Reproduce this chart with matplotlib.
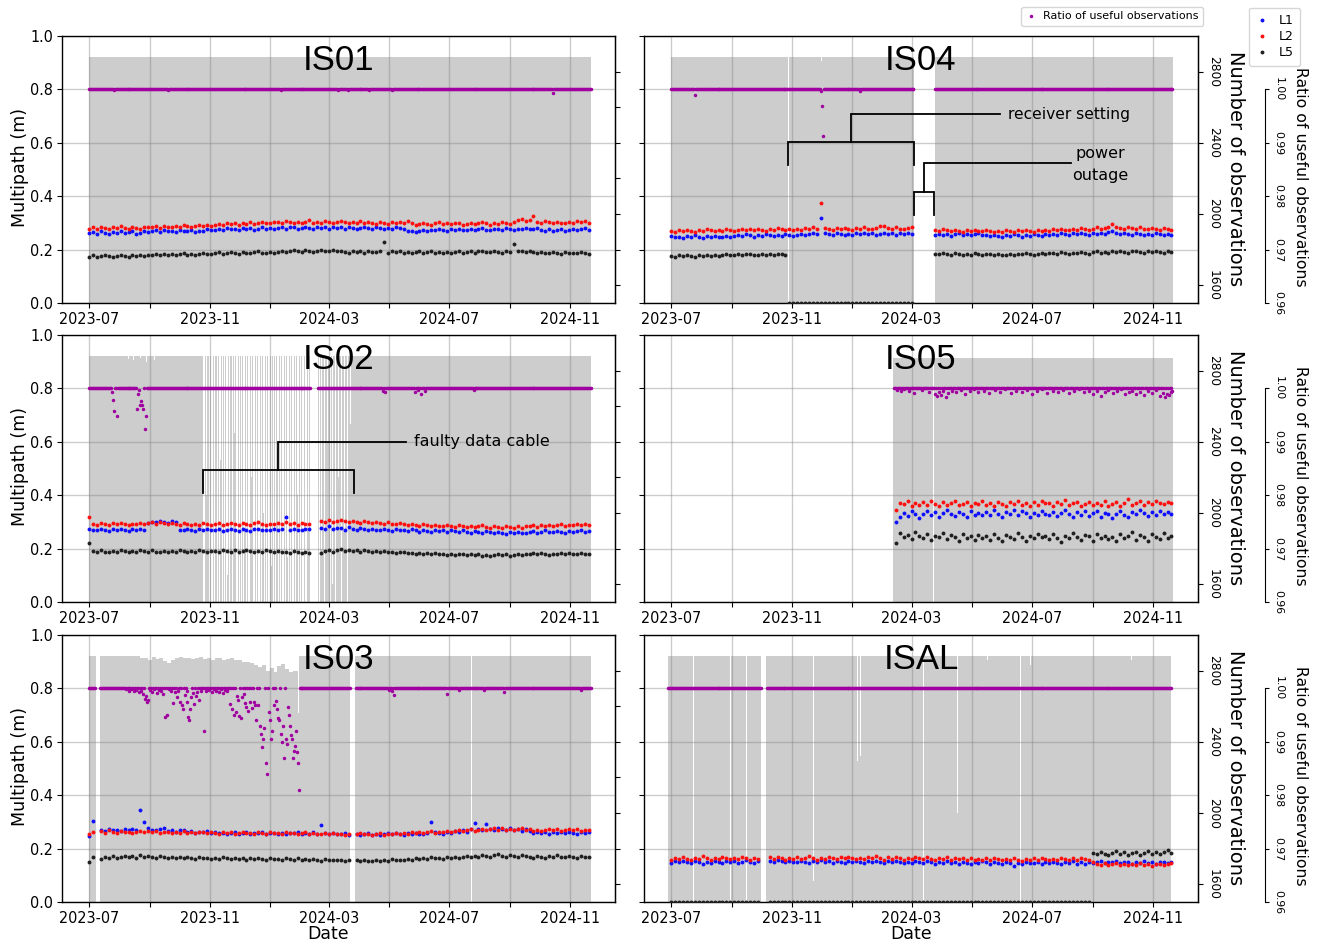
import numpy as np
import pandas as pd
import matplotlib
matplotlib.use("Agg")
import matplotlib.pyplot as plt
import matplotlib.dates as mdates
from matplotlib.lines import Line2D
from matplotlib import font_manager as fm
from matplotlib.ticker import FixedLocator, FuncFormatter

# ---------------------------------------------------------------------------
# Data: daily multipath (mm, sampled every 4 days from 2023-07-01),
# observation counts per day, and ratio of useful observations.
# None = no data, 0 = signal not tracked.
# ---------------------------------------------------------------------------
START = "2023-07-01"
STEP = 4
SAMPLE_DAYS = np.arange(0, 512, STEP)          # 128 samples

IS01_L1 = [262, 266, 260, 268, 264, 259, 267, 263, 270, 261, 265, 268, 258, 264, 269, 266,
           268, 272, 265, 274, 269, 271, 266, 273, 270, 268, 275, 267, 271, 269, 276, 272,
           275, 279, 273, 281, 276, 278, 274, 282, 277, 280, 275, 279, 283, 276, 281, 278,
           280, 284, 278, 283, 286, 279, 282, 285, 281, 277, 284, 280, 283, 279, 286, 282,
           283, 279, 284, 281, 277, 282, 286, 280, 278, 283, 281, 276, 282, 279, 284, 280,
           276, 271, 268, 266, 270, 273, 269, 275, 272, 277, 274, 271, 276, 273, 278, 275,
           274, 278, 273, 277, 280, 275, 272, 279, 276, 274, 281, 277, 273, 279, 276, 282,
           279, 276, 281, 274, 271, 277, 269, 273, 276, 270, 274, 278, 272, 276, 280, 274]
IS01_L2 = [277, 283, 279, 285, 281, 276, 284, 280, 287, 282, 278, 285, 281, 279, 286, 283,
           284, 288, 282, 290, 286, 283, 289, 285, 291, 287, 284, 290, 292, 288, 294, 290,
           293, 297, 291, 299, 295, 298, 294, 300, 296, 302, 297, 299, 303, 298, 301, 305,
           304, 300, 307, 302, 298, 305, 301, 303, 309, 300, 304, 298, 306, 302, 300, 305,
           307, 302, 299, 304, 301, 306, 298, 303, 300, 297, 304, 301, 296, 302, 299, 304,
           301, 306, 298, 294, 296, 300, 297, 293, 299, 302, 296, 299, 295, 301, 298, 294,
           297, 301, 295, 300, 303, 298, 294, 301, 297, 303, 299, 296, 302, 310, 316, 308,
           312, 325, 303, 300, 306, 302, 299, 305, 301, 298, 304, 300, 307, 303, 306, 300]
IS01_L5 = [174, 178, 172, 176, 179, 175, 173, 177, 180, 176, 174, 178, 175, 179, 177, 181,
           180, 184, 179, 183, 181, 185, 178, 182, 186, 181, 184, 180, 183, 187, 182, 185,
           186, 190, 184, 189, 192, 187, 185, 191, 188, 186, 190, 193, 187, 189, 191, 188,
           192, 196, 190, 195, 198, 193, 191, 197, 194, 192, 196, 199, 193, 195, 197, 194,
           196, 192, 189, 194, 191, 195, 188, 193, 190, 192, 196, 228, 189, 194, 191, 193,
           189, 192, 187, 191, 194, 188, 190, 193, 186, 191, 189, 192, 188, 190, 193, 189,
           191, 194, 189, 193, 196, 190, 192, 195, 191, 189, 194, 192, 222, 193, 196, 191,
           193, 190, 187, 192, 189, 186, 191, 188, 185, 190, 187, 189, 186, 190, 188, 185]

IS02_L1 = [275, 271, 268, 273, 270, 266, 272, 269, 274, 270, 267, 272, 269, 273, 271, 297,
           301, 298, 303, 300, 296, 302, 299, 271, 268, 273, 270, 266, 272, 269, 274, 270,
           268, 272, 265, 271, 274, 269, 266, 273, 270, 267, 272, 275, 269, 271, 268, 274,
           270, 273, 318, 268, 274, 271, 269, 272, 273, None, None, 279, 272, 283, 275, 278,
           276, 271, 280, 274, 270, 277, 273, 269, 275, 271, 268, 274, 270, 267, 273, 269,
           270, 266, 272, 268, 264, 270, 267, 263, 269, 265, 268, 264, 270, 266, 262, 268,
           264, 260, 266, 262, 259, 265, 261, 257, 263, 260, 256, 262, 259, 264, 260, 258,
           262, 266, 260, 264, 268, 263, 261, 266, 264, 260, 267, 263, 265, 269, 264, 266]
IS02_L2 = [318, 294, 290, 296, 292, 289, 295, 291, 297, 293, 289, 294, 291, 296, 292, 295,
           298, 293, 300, 296, 291, 297, 293, 289, 295, 291, 288, 294, 290, 296, 292, 289,
           291, 295, 289, 294, 297, 292, 288, 296, 293, 290, 295, 298, 292, 289, 294, 291,
           296, 292, 298, 293, 295, 290, 297, 294, 291, None, None, 303, 299, 306, 301, 304,
           308, 302, 299, 305, 300, 297, 303, 298, 295, 301, 296, 293, 299, 294, 291, 297,
           292, 288, 294, 289, 285, 291, 287, 284, 290, 286, 283, 289, 285, 282, 288, 284,
           282, 286, 280, 284, 288, 281, 279, 285, 282, 278, 284, 280, 277, 283, 279, 286,
           283, 287, 281, 289, 285, 290, 284, 288, 292, 286, 290, 287, 293, 289, 291, 288]
IS02_L5 = [220, 191, 187, 193, 189, 186, 192, 188, 194, 190, 187, 192, 189, 195, 191, 188,
           193, 189, 186, 192, 188, 191, 187, 193, 190, 186, 192, 189, 195, 191, 187, 190,
           192, 188, 194, 190, 187, 193, 189, 191, 195, 190, 186, 192, 188, 194, 190, 187,
           191, 187, 189, 185, 190, 186, 183, 188, 184, None, None, 182, 191, 196, 189, 193,
           197, 192, 195, 190, 194, 189, 193, 191, 188, 192, 187, 190, 186, 189, 185, 188,
           186, 182, 185, 181, 184, 180, 183, 179, 182, 178, 181, 177, 180, 176, 179, 178,
           176, 179, 175, 178, 174, 177, 173, 176, 180, 175, 178, 174, 177, 181, 176, 179,
           178, 182, 179, 183, 180, 177, 181, 178, 182, 179, 183, 180, 178, 182, 179, 181]

IS03_L1 = [248, 302, None, 270, 266, 274, 268, 271, 265, 273, 269, 275, 268, 345, 300, 276,
           271, 268, 273, 276, 266, 270, 264, 271, 268, 262, 266, 259, 264, 261, 267, 260,
           262, 257, 260, 255, 259, 263, 256, 258, 261, 254, 259, 257, 262, 255, 260, 258,
           256, 260, 254, 259, 257, 262, 255, 258, 253, 261, 256, 290, 257, 254, 258, 255,
           253, 257, 252, None, 256, 251, 255, 258, 252, 256, 250, 254, 257, 253, 259, 255,
           252, 258, 254, 260, 256, 253, 259, 300, 262, 258, 256, 263, 259, 266, 261, 268,
           264, 272, 295, 275, 270, 293, 274, 269, 278, 272, 268, 276, 271, 275, 267, 273,
           266, 260, 263, 258, 262, 256, 261, 259, 264, 257, 262, 258, 255, 261, 259, 263]
IS03_L2 = [255, 262, None, 265, 260, 268, 263, 259, 266, 261, 264, 258, 263, 267, 261, 265,
           262, 266, 259, 264, 261, 257, 263, 260, 265, 258, 262, 259, 264, 261, 257, 263,
           260, 256, 262, 258, 261, 255, 259, 263, 257, 260, 256, 262, 258, 255, 261, 259,
           259, 255, 261, 257, 260, 256, 258, 262, 255, 259, 256, 254, 258, 255, 257, 253,
           256, 252, 255, None, 254, 258, 253, 256, 251, 255, 258, 252, 256, 253, 257, 254,
           258, 255, 261, 257, 263, 259, 262, 266, 260, 264, 261, 267, 263, 266, 270, 265,
           268, 272, 266, 270, 275, 269, 273, 278, 271, 276, 270, 274, 268, 272, 276, 270,
           273, 267, 271, 265, 270, 274, 268, 272, 266, 270, 275, 269, 272, 267, 271, 268]
IS03_L5 = [148, 168, None, 162, 170, 165, 172, 166, 169, 174, 167, 171, 165, 176, 168, 172,
           170, 166, 173, 167, 164, 170, 166, 168, 163, 167, 165, 162, 168, 164, 166, 161,
           165, 161, 167, 163, 160, 166, 162, 164, 159, 163, 161, 166, 162, 158, 164, 160,
           162, 158, 164, 160, 157, 163, 159, 161, 156, 160, 158, 155, 161, 157, 159, 156,
           158, 154, 157, None, 156, 153, 159, 155, 152, 157, 154, 158, 155, 160, 156, 159,
           158, 162, 157, 164, 160, 166, 161, 168, 163, 165, 161, 167, 164, 170, 166, 168,
           171, 167, 174, 169, 176, 172, 168, 175, 178, 173, 170, 176, 172, 169, 175, 171,
           169, 165, 172, 168, 166, 171, 167, 175, 170, 168, 173, 169, 166, 171, 167, 170]

IS04_L1 = [250, 246, 249, 244, 251, 247, 253, 248, 245, 250, 247, 252, 248, 246, 251, 249,
           252, 255, 250, 257, 253, 249, 255, 251, 258, 254, 250, 256, 252, 259, 255, 251,
           256, 260, 254, 258, 262, 257, 320, 264, 259, 255, 261, 257, 253, 259, 256, 262,
           258, 263, 257, 261, 255, 260, 264, 258, 262, 256, 261, 259, 263, 257, None, None,
           None, None, None, 256, 260, 254, 258, 252, 257, 261, 255, 259, 253, 258, 262, 256,
           254, 250, 256, 252, 248, 255, 251, 257, 253, 249, 256, 252, 258, 254, 250, 257,
           256, 260, 255, 262, 258, 254, 261, 257, 263, 259, 255, 262, 258, 264, 260, 266,
           268, 262, 258, 264, 260, 256, 262, 258, 254, 260, 256, 262, 257, 253, 259, 255]
IS04_L2 = [270, 266, 272, 268, 275, 271, 267, 273, 269, 276, 272, 268, 274, 270, 277, 273,
           271, 275, 278, 272, 276, 273, 279, 275, 271, 277, 274, 280, 276, 272, 278, 275,
           278, 274, 280, 276, 283, 278, 375, 281, 277, 274, 280, 276, 282, 278, 275, 281,
           277, 283, 279, 276, 282, 290, 287, 281, 277, 283, 279, 276, 282, 284, None, None,
           None, None, None, 274, 270, 276, 272, 268, 275, 271, 267, 273, 269, 275, 271, 268,
           272, 268, 265, 271, 267, 273, 269, 266, 272, 268, 274, 270, 267, 273, 269, 275,
           271, 277, 273, 279, 275, 272, 278, 274, 280, 276, 273, 279, 283, 277, 281, 285,
           295, 286, 282, 279, 284, 280, 277, 283, 279, 276, 282, 278, 275, 281, 277, 274]
IS04_L5 = ([176, 174, 178, 175, 179, 177, 174, 180, 176, 178, 175, 181, 177, 179, 182, 178,
            180, 183, 179, 182, 185, 181, 178, 184, 180, 183, 181, 185, 182, 179]
           + [0] * 32 + [None] * 5
           + [185, 182, 188, 184, 180, 186, 183, 179, 185, 181, 187, 183, 180,
              182, 185, 180, 184, 181, 178, 183, 180, 185, 182, 186, 183, 180, 185, 187, 184,
              186, 189, 185, 190, 187, 184, 189, 186, 191, 188, 185, 190, 193, 188, 191, 189,
              194, 190, 195, 192, 189, 193, 196, 191, 188, 194, 190, 195, 192, 189, 193, 191])

IS05_L1 = [None] * 57 + [300, 318, 335, 322, 340, 328, 316,
           331, 342, 325, 336, 319, 333, 345, 328, 322, 338, 330, 317, 341, 327, 335, 324,
           338, 326, 343, 331, 320, 336, 329, 344, 324, 339, 332, 318, 335, 327, 342, 330,
           325, 337, 321, 334, 346, 329, 318, 336, 327, 341, 323, 332, 339, 320, 334, 328,
           315, 330, 342, 325, 319, 337, 328, 344, 333, 321, 338, 326, 342, 331, 336, 329]
IS05_L2 = [None] * 57 + [345, 372, 366, 378, 360, 371, 365,
           373, 362, 378, 367, 359, 374, 365, 370, 380, 362, 368, 375, 360, 371, 366, 377,
           364, 372, 359, 376, 368, 361, 374, 366, 379, 363, 370, 358, 373, 365, 377, 369,
           371, 360, 375, 366, 382, 362, 369, 374, 358, 367, 376, 363, 371, 365, 378, 361,
           368, 374, 359, 372, 386, 364, 370, 377, 362, 375, 368, 380, 371, 366, 374, 369]
IS05_L5 = [None] * 57 + [220, 258, 243, 251, 236, 262, 247,
           239, 254, 231, 248, 242, 259, 235, 250, 244, 229, 256, 240, 247, 233, 252, 241,
           246, 232, 255, 240, 228, 251, 243, 236, 258, 245, 230, 249, 238, 254, 242, 247,
           235, 253, 241, 226, 249, 238, 257, 243, 232, 251, 246, 229, 255, 240, 248, 236,
           244, 230, 256, 239, 248, 261, 233, 250, 242, 227, 253, 245, 236, 258, 241, 247]

ISAL_L1 = [145, 152, 148, 155, 149, 146, 153, 150, 144, 151, 147, 154, 149, 145, 152, 148,
           153, 147, 151, 156, 149, 145, 152, None, None, 154, 150, 157, 152, 148, 155, 151,
           149, 155, 151, 147, 153, 150, 156, 148, 152, 146, 154, 150, 147, 153, 149, 155,
           151, 146, 153, 149, 155, 150, 147, 152, 148, 154, 150, 145, 151, 147, 153, 149,
           146, 152, 148, 144, 150, 147, 153, 145, 149, 143, 151, 147, 144, 150, 146, 152,
           148, 144, 150, 146, 142, 149, 145, 134, 147, 143, 149, 145, 146, 150, 144, 148,
           145, 151, 147, 143, 149, 146, 152, 144, 148, 142, 150, 146, 148, 152, 147, 150,
           149, 153, 146, 151, 148, 144, 150, 147, 152, 145, 149, 143, 148, 151, 146, 150]
ISAL_L2 = [158, 165, 161, 168, 162, 157, 164, 160, 171, 163, 159, 166, 161, 168, 163, 160,
           166, 160, 170, 163, 158, 165, 161, None, None, 167, 162, 170, 164, 159, 166, 162,
           168, 161, 165, 171, 163, 159, 166, 162, 169, 164, 160, 167, 163, 170, 165, 161,
           166, 160, 168, 163, 171, 165, 159, 167, 162, 169, 164, 158, 166, 161, 168, 163,
           160, 167, 162, 158, 165, 161, 168, 157, 164, 160, 166, 159, 163, 157, 162, 158,
           163, 158, 165, 160, 156, 162, 158, 164, 159, 155, 161, 157, 163, 159, 165, 160,
           157, 162, 158, 164, 160, 156, 163, 159, 165, 161, 158, 150, 143, 140, 146, 138,
           141, 146, 139, 144, 137, 143, 140, 145, 138, 142, 136, 141, 144, 139, 143, 147]
ISAL_L5 = ([0] * 23 + [None] * 2 + [0] * 82
           + [185, 178, 188, 181, 176, 183, 190, 179, 186, 175, 182, 188, 177, 184, 191,
              180, 186, 178, 189, 194, 183])

# Observation counts: runs of (first day, last day, count), days from START
OBS_RUNS = {
    "IS01": [(0, 510, 2880)],
    "IS02": [(0, 225, 2880), (233, 510, 2880)],
    "IS03": [(0, 6, 2880), (11, 51, 2880), (212, 212, 2795), (213, 213, 2560),
             (214, 265, 2880), (271, 510, 2880)],
    "IS04": [(0, 246, 2880), (268, 509, 2880)],
    "IS05": [(226, 509, 2872)],
    "ISAL": [(-3, 91, 2880), (97, 507, 2880)],
}
# IS03 counts in 4-day blocks starting at day 52
IS03_OBS_BLOCK_START = 52
IS03_OBS_BLOCKS = [2872, 2868, 2860, 2874, 2866, 2870, 2852, 2845, 2862, 2870,
                   2876, 2868, 2872, 2864, 2870, 2875, 2866, 2870, 2862, 2868,
                   2872, 2860, 2866, 2870, 2858, 2862, 2850, 2846, 2840, 2834,
                   2822, 2830, 2800, 2812, 2792, 2824, 2836, 2810, 2790, 2800]
# Single days with reduced counts (day, count)
OBS_LOW = {
    "IS01": [],
    "IS02": [(40, 2865), (45, 2858), (52, 2870), (58, 2850), (66, 2862),
             (116, 900), (117, 0), (119, 2100), (122, 300), (124, 1200), (125, 0),
             (127, 0), (129, 1800), (131, 600), (133, 0), (134, 2300), (136, 0),
             (138, 1100), (140, 0), (141, 1650), (143, 0), (146, 800), (148, 2450),
             (150, 0), (151, 0), (153, 1300), (155, 0), (157, 0), (158, 1900), (160, 500),
             (162, 0), (163, 0), (165, 2200), (167, 700), (168, 0), (170, 0), (172, 1500),
             (173, 0), (175, 0), (177, 2000), (178, 0), (180, 400), (182, 0), (183, 0),
             (185, 1700), (187, 0), (188, 0), (190, 900), (192, 2350), (193, 0), (195, 0),
             (197, 1200), (198, 0), (200, 0), (202, 1750), (203, 0), (205, 0), (207, 600),
             (208, 0), (210, 0), (212, 2100), (213, 0), (215, 0), (217, 0), (218, 1400),
             (220, 0), (221, 0), (223, 1900), (225, 0), (234, 0), (236, 1800), (239, 0),
             (242, 2400), (245, 0), (248, 1600), (251, 0), (254, 2200), (257, 0),
             (260, 1900), (263, 0), (266, 2500)],
    "IS03": [(389, 0)],
    "IS04": [(119, 0), (153, 2862)],
    "IS05": [(266, 0)],
    "ISAL": [(23, 0), (60, 0), (76, 0), (144, 1620), (189, 2290), (192, 2320), (256, 0),
             (291, 2000), (321, 2860), (344, 2810), (355, 0), (365, 2830), (467, 2860)],
}

# Ratio of useful observations: days below 1.00 (day, ratio); all other days are 1.00
RATIO_DIPS = {
    "IS01": [(25, 0.99985), (80, 0.99985), (195, 0.99985), (253, 0.99985), (263, 0.99985),
             (285, 0.99985), (308, 0.99985), (472, 0.9994)],
    "IS02": [(23, 0.99924), (24, 0.99784), (25, 0.99582), (28, 0.99477), (49, 0.99620),
             (50, 0.99893), (51, 0.99970), (52, 0.99690), (53, 0.99756), (54, 0.99690),
             (55, 0.99620), (57, 0.99240), (58, 0.99477), (299, 0.9996), (301, 0.9993),
             (331, 0.9993), (335, 0.9997), (338, 0.9990), (342, 0.9995), (391, 0.99975)],
    "IS03": [(37, 0.9998), (40, 0.9996), (43, 0.9998), (46, 0.9995), (48, 0.9997),
             (51, 0.9993), (53, 0.9995), (55, 0.9990), (57, 0.9980), (58, 0.9986),
             (59, 0.9974), (60, 0.9978), (62, 0.9997), (64, 0.9994), (66, 0.9998),
             (69, 0.9992), (71, 0.9997), (73, 0.9996), (75, 0.9990), (77, 0.9946),
             (79, 0.9951), (81, 0.9998), (83, 0.9995), (85, 0.9972), (87, 0.9993),
             (89, 0.9984), (90, 0.9996), (92, 0.9975), (94, 0.9968), (95, 0.9962),
             (97, 0.9988), (99, 0.9974), (100, 0.9996), (101, 0.9946), (102, 0.9940),
             (103, 0.9962), (104, 0.9983), (106, 0.9991), (107, 0.9971), (109, 0.9985),
             (110, 0.9993), (112, 0.9978), (114, 0.9996), (117, 0.9920), (119, 0.9995),
             (122, 0.9997), (125, 0.9993), (127, 0.9998), (129, 0.9996), (132, 0.9994),
             (134, 0.9998), (136, 0.9992), (138, 0.9997), (140, 0.9995), (143, 0.9970),
             (145, 0.9962), (147, 0.9950), (149, 0.9955), (150, 0.9985), (151, 0.9979),
             (152, 0.9948), (154, 0.9945), (155, 0.9983), (157, 0.9989), (158, 0.9972),
             (160, 0.9966), (162, 0.9958), (164, 0.9975), (166, 0.9963), (168, 0.9974),
             (169, 0.9968), (170, 0.9941), (172, 0.9969), (174, 0.9930), (175, 0.9915),
             (176, 0.9890), (177, 0.9905), (178, 0.9925), (180, 0.9860), (181, 0.9840),
             (183, 0.9955), (184, 0.9941), (185, 0.9905), (186, 0.9920), (188, 0.9968),
             (190, 0.9976), (191, 0.9962), (192, 0.9945), (193, 0.9940), (195, 0.9915),
             (196, 0.9900), (197, 0.9930), (198, 0.9870), (200, 0.9905), (201, 0.9895),
             (202, 0.9965), (203, 0.9950), (204, 0.9930), (205, 0.9912), (206, 0.9905),
             (207, 0.9870), (208, 0.9882), (209, 0.9892), (210, 0.9920), (211, 0.9880),
             (212, 0.9860), (213, 0.9810), (305, 0.9997), (308, 0.9995), (310, 0.9988),
             (364, 0.9990), (376, 0.99975), (402, 0.99975), (422, 0.99925), (500, 0.99975)],
    "IS04": [(24, 0.99894), (152, 0.99975), (153, 0.99688), (154, 0.99130), (192, 0.99975)],
    "IS05": [(229, 0.9997), (233, 0.9995), (236, 0.9998), (241, 0.9996), (247, 0.9992),
             (255, 0.9997), (262, 0.9994), (268, 0.9990), (270, 0.9986), (272, 0.9993),
             (274, 0.9988), (276, 0.9995), (279, 0.9983), (281, 0.9991), (285, 0.9996),
             (289, 0.9993), (294, 0.9997), (298, 0.9990), (303, 0.9995), (307, 0.9998),
             (312, 0.9993), (318, 0.9996), (323, 0.9991), (329, 0.9997), (334, 0.9994),
             (339, 0.9998), (345, 0.9992), (350, 0.9996), (356, 0.9993), (361, 0.9997),
             (366, 0.9990), (371, 0.9995), (377, 0.9998), (382, 0.9992), (388, 0.9996),
             (393, 0.9994), (398, 0.9997), (404, 0.9991), (409, 0.9995), (414, 0.9998),
             (419, 0.9993), (424, 0.9996), (428, 0.9990), (432, 0.9995), (436, 0.9985),
             (440, 0.9994), (444, 0.9997), (449, 0.9991), (453, 0.9995), (457, 0.9998),
             (461, 0.9989), (465, 0.9993), (468, 0.9996), (472, 0.9990), (476, 0.9994),
             (480, 0.9987), (484, 0.9995), (488, 0.9992), (492, 0.9997), (496, 0.9986),
             (499, 0.9991), (501, 0.9984), (503, 0.9990), (505, 0.9987), (507, 0.9993),
             (509, 0.9995)],
    "ISAL": [],
}

MULTIPATH = {
    "IS01": (IS01_L1, IS01_L2, IS01_L5),
    "IS02": (IS02_L1, IS02_L2, IS02_L5),
    "IS03": (IS03_L1, IS03_L2, IS03_L5),
    "IS04": (IS04_L1, IS04_L2, IS04_L5),
    "IS05": (IS05_L1, IS05_L2, IS05_L5),
    "ISAL": (ISAL_L1, ISAL_L2, ISAL_L5),
}
PANELS = [("IS01", 0, 0), ("IS04", 0, 1), ("IS02", 1, 0),
          ("IS05", 1, 1), ("IS03", 2, 0), ("ISAL", 2, 1)]
SIGNALS = ["L1", "L2", "L5"]

# ---------------------------------------------------------------------------
# Styling
# ---------------------------------------------------------------------------
SIG_COLORS = {"L1": "#1010ff", "L2": "#ff1010", "L5": "#202020"}
RATIO_COLOR = "#a000a0"
BAR_COLOR = "#cdcdcd"
GRID_KW = dict(color="#808080", alpha=0.4, lw=1.0)
DOT = 2.8

have_cond = any(f.name == "DejaVu Sans" and f.stretch == "condensed"
                for f in fm.fontManager.ttflist)
if have_cond:
    TICK_FP = fm.FontProperties(family="DejaVu Sans", stretch="condensed", size=11.5)
else:
    TICK_FP = fm.FontProperties(family="Liberation Sans", size=11.5)

plt.rcParams["font.family"] = ["DejaVu Sans"]

W, H = 1319, 947
fig = plt.figure(figsize=(W / 100, H / 100), dpi=100)

COL_X = [62, 644]
COL_W = [553, 554]
ROW_BOTTOM = [303, 602, 902]
AX_H = 267

X0 = mdates.date2num(pd.Timestamp(START))
XLIM = (mdates.date2num(pd.Timestamp("2023-06-03 08:00")),
        mdates.date2num(pd.Timestamp("2024-12-16 22:00")))


def dnum(s):
    return mdates.date2num(pd.Timestamp(s))


def daily_counts(name):
    counts = {}
    for d0, d1, c in OBS_RUNS[name]:
        for d in range(d0, d1 + 1):
            counts[d] = c
    if name == "IS03":
        for i, c in enumerate(IS03_OBS_BLOCKS):
            for d in range(IS03_OBS_BLOCK_START + 4 * i, IS03_OBS_BLOCK_START + 4 * i + 4):
                counts[d] = c
    covered = sorted(counts)
    for d, c in OBS_LOW[name]:
        counts[d] = c
    return counts, covered


def month_label(x, pos):
    dt = mdates.num2date(x)
    return dt.strftime("%Y-%m") if dt.month in (3, 7, 11) else ""


def bracket(ax, d0, d1, y_low, y_mid, y_top, x_end):
    t0, t1 = dnum(d0), dnum(d1)
    tm = 0.5 * (t0 + t1)
    kw = dict(color="black", lw=1.3, solid_joinstyle="miter", zorder=6)
    ax.plot([t0, t0, t1, t1], [y_low, y_mid, y_mid, y_low], **kw)
    ax.plot([tm, tm, dnum(x_end)], [y_mid, y_top, y_top], **kw)


main_axes = []
for name, row, col in PANELS:
    ax = fig.add_axes([COL_X[col] / W, 1 - ROW_BOTTOM[row] / H, COL_W[col] / W, AX_H / H])
    ax_obs = ax.twinx()
    ax_ratio = ax.twinx()
    ax_obs.set_zorder(1)
    ax.set_zorder(2)
    ax_ratio.set_zorder(3)
    ax.patch.set_visible(False)
    ax_ratio.patch.set_visible(False)
    main_axes.append(ax)

    # number of observations per day
    counts, covered = daily_counts(name)
    days = sorted(counts)
    ax_obs.bar(X0 + np.array(days, dtype=float), [counts[d] for d in days],
               width=1.0, color=BAR_COLOR, linewidth=0)
    ax_obs.set_ylim(1500, 3000)

    # ratio of useful observations
    dips = dict(RATIO_DIPS[name])
    ax_ratio.plot(X0 + np.array(covered, dtype=float),
                  [dips.get(d, 1.0) for d in covered],
                  ls="none", marker="o", ms=2.5, mew=0, color=RATIO_COLOR)
    ax_ratio.set_ylim(0.96, 1.01)

    # multipath per signal
    for sig, vals in zip(SIGNALS, MULTIPATH[name]):
        assert len(vals) == len(SAMPLE_DAYS), (name, sig, len(vals))
        y = np.array(vals, dtype=float) / 1000.0
        ax.plot(X0 + SAMPLE_DAYS, y, ls="none", marker="o", ms=DOT, mew=0,
                color=SIG_COLORS[sig], zorder=3)

    ax.set_xlim(*XLIM)
    ax.set_ylim(0, 1.0)
    ax.xaxis.set_major_locator(mdates.MonthLocator(bymonth=[1, 3, 5, 7, 9, 11]))
    ax.xaxis.set_major_formatter(FuncFormatter(month_label))
    ax.yaxis.set_major_locator(FixedLocator(np.arange(0, 1.01, 0.2)))
    ax.yaxis.set_major_formatter(FuncFormatter(lambda v, p: f"{v:.1f}"))
    ax.grid(True, **GRID_KW)
    ax.tick_params(axis="both", direction="out", length=3.5, width=0.8, pad=3)
    for s in ax.spines.values():
        s.set_linewidth(1.0)

    for s in ("left", "top", "bottom"):
        ax_obs.spines[s].set_visible(False)
        ax_ratio.spines[s].set_visible(False)

    ax.text(0.5, 0.873, name, transform=ax.transAxes, ha="center", va="baseline",
            fontsize=25, family=["Liberation Sans", "DejaVu Sans"], zorder=7)

    if col == 0:
        ax.set_ylabel("Multipath (m)", fontsize=12.6)
        ax.yaxis.set_label_coords(-0.059, 0.507)
        ax_obs.yaxis.set_major_locator(FixedLocator(range(1600, 2801, 200)))
        ax_obs.tick_params(axis="y", labelright=False, length=3.5, width=0.8)
        ax_ratio.spines["right"].set_visible(False)
        ax_ratio.set_yticks([])
    else:
        ax.tick_params(axis="y", labelleft=False)
        ax_obs.yaxis.set_major_locator(FixedLocator([1600, 2000, 2400, 2800]))
        ax_obs.tick_params(axis="y", labelsize=8.8, labelrotation=270, length=3.5,
                           width=0.8, pad=3)
        for lab in ax_obs.get_yticklabels():
            lab.set_verticalalignment("center")
        ax_obs.set_ylabel("Number of observations", rotation=270, fontsize=14,
                          va="bottom")
        ax_obs.yaxis.set_label_coords(1.050, 0.503)

        ax_ratio.spines["right"].set_position(("axes", 1.121))
        ax_ratio.spines["right"].set_bounds(0.96, 1.00)
        ax_ratio.yaxis.set_major_locator(FixedLocator([0.96, 0.97, 0.98, 0.99, 1.00]))
        ax_ratio.yaxis.set_major_formatter(FuncFormatter(lambda v, p: f"{v:.2f}"))
        ax_ratio.tick_params(axis="y", labelsize=7.8, labelrotation=270, length=3,
                             width=0.8, pad=3)
        for lab in ax_ratio.get_yticklabels():
            lab.set_verticalalignment("center")
        ax_ratio.set_ylabel("Ratio of useful observations", rotation=270,
                            fontsize=11.3, va="bottom")
        ax_ratio.yaxis.set_label_coords(1.172, 0.472)

    if row == 2:
        ax.set_xlabel("Date", fontsize=12.5)
        ax.xaxis.set_label_coords(0.482, -0.088)

    if name == "IS02":
        bracket(ax, "2023-10-25", "2024-03-26", 0.41, 0.496, 0.60, "2024-05-18")
        ax.text(dnum("2024-05-26"), 0.60, "faulty data cable", fontsize=11.5,
                ha="left", va="center", zorder=7)
    if name == "IS04":
        bracket(ax, "2023-10-28", "2024-03-04", 0.517, 0.602, 0.707, "2024-05-30")
        ax.text(dnum("2024-06-07"), 0.707, "receiver setting", fontsize=11.2,
                ha="left", va="center", zorder=7)
        bracket(ax, "2024-03-04", "2024-03-24", 0.33, 0.417, 0.525, "2024-08-10")
        ax.text(dnum("2024-09-09"), 0.518, "power\noutage", fontsize=11.5,
                ha="center", va="center", multialignment="center",
                linespacing=1.55, zorder=7)

# legends
ratio_handle = Line2D([], [], ls="none", marker="o", ms=2.5, mew=0, color=RATIO_COLOR)
fig.legend([ratio_handle], ["Ratio of useful observations"], loc="upper right",
           bbox_to_anchor=(1203 / W, 1 - 7 / H), borderaxespad=0, fontsize=8,
           handlelength=0.85, handletextpad=0.7, borderpad=0.4)
sig_handles = [Line2D([], [], ls="none", marker="o", ms=2.8, mew=0, color=SIG_COLORS[s])
               for s in SIGNALS]
fig.legend(sig_handles, SIGNALS, loc="upper right",
           bbox_to_anchor=(1300 / W, 1 - 8 / H), borderaxespad=0, fontsize=9,
           handlelength=1.1, handletextpad=0.8, borderpad=0.5, labelspacing=0.25)

# tick label font on the multipath axes
fig.canvas.draw()
for ax in main_axes:
    for lab in ax.get_xticklabels() + ax.get_yticklabels():
        lab.set_fontproperties(TICK_FP)

fig.savefig("out.png", dpi=100)
